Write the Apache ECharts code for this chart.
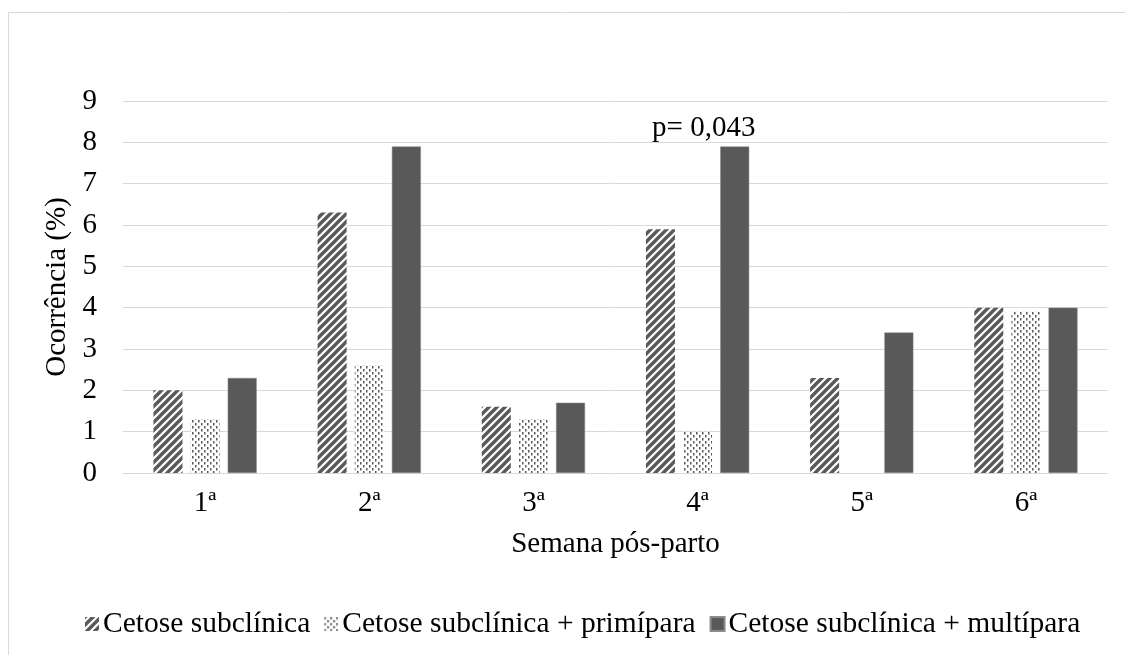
<!DOCTYPE html>
<html><head><meta charset="utf-8">
<script src="https://cdn.jsdelivr.net/npm/echarts@6/dist/echarts.min.js"></script>
<style>html,body{margin:0;padding:0;background:#fff}#c{width:1125px;height:655px}</style>
</head><body><div id="c"></div>
<script>
const categories = ['1ª','2ª','3ª','4ª','5ª','6ª'];
const seriesNames = ['Cetose subclínica','Cetose subclínica + primípara','Cetose subclínica + multípara'];
const cetose = [2.0, 6.3, 1.6, 5.9, 2.3, 4.0];
const primipara = [1.3, 2.6, 1.3, 1.0, 0, 3.9];
const multipara = [2.3, 7.9, 1.7, 7.9, 3.4, 4.0];
const yTicks = [0,1,2,3,4,5,6,7,8,9];
const annotationIndex = 3;
const annotationText = 'p= 0,043';

function hatch(){
  const c = document.createElement('canvas'); c.width = 8; c.height = 8;
  const g = c.getContext('2d');
  g.fillStyle = '#fff'; g.fillRect(0,0,8,8);
  g.strokeStyle = '#595959'; g.lineWidth = 3.4;
  g.beginPath();
  g.moveTo(-2,10); g.lineTo(10,-2);
  g.moveTo(-2,2); g.lineTo(2,-2);
  g.moveTo(6,10); g.lineTo(10,6);
  g.stroke();
  return {image:c, repeat:'repeat'};
}
function dots(){
  const c = document.createElement('canvas'); c.width = 6; c.height = 6;
  const g = c.getContext('2d');
  g.fillStyle = '#fff'; g.fillRect(0,0,6,6);
  g.fillStyle = '#595959';
  g.fillRect(0,0,1.5,2.5); g.fillRect(3,3,1.5,2.5);
  return {image:c, repeat:'repeat'};
}
const font = 'Liberation Serif';
const fs = 29;
const chart = echarts.init(document.getElementById('c'));
const multData = multipara.map((v,i)=> i===annotationIndex ? {value:v, label:{show:true, position:'top', offset:[-31,0], formatter:annotationText, fontFamily:font, fontSize:fs, color:'#000', distance:4}} : v);
chart.setOption({
  animation:false,
  graphic:[{type:'rect', shape:{x:8.5,y:12.5,width:1130,height:660}, style:{fill:'none', stroke:'#d9d9d9', lineWidth:1}}],
  grid:{left:123, right:17, top:101, bottom:182},
  legend:{top:604, left:80, itemWidth:14, itemHeight:14, itemGap:14,
    textStyle:{fontFamily:font, fontSize:29.5, color:'#000', padding:[0,0,0,-1]}, icon:'rect',
    data:seriesNames},
  xAxis:{type:'category', data:categories,
    axisLine:{lineStyle:{color:'#d9d9d9'}}, axisTick:{show:false},
    axisLabel:{fontFamily:font, fontSize:fs, color:'#000', margin:16},
    name:'Semana pós-parto', nameLocation:'middle', nameGap:57,
    nameTextStyle:{fontFamily:font, fontSize:fs, color:'#000'}},
  yAxis:{type:'value', min:0, max:9, interval:1,
    axisLine:{show:false}, axisTick:{show:false},
    splitLine:{lineStyle:{color:'#d9d9d9', width:1}},
    axisLabel:{fontFamily:font, fontSize:fs, color:'#000', margin:26, formatter:v=>String(yTicks[v])},
    name:'Ocorrência (%)', nameLocation:'middle', nameGap:47, nameRotate:90,
    nameTextStyle:{fontFamily:font, fontSize:fs, color:'#000'}},
  series:[
    {name:seriesNames[0], type:'bar', data:cetose, barWidth:29, barGap:'28%', itemStyle:{color:hatch()}},
    {name:seriesNames[1], type:'bar', data:primipara, barWidth:29, barGap:'28%', itemStyle:{color:dots()}},
    {name:seriesNames[2], type:'bar', data:multData, barWidth:29, barGap:'28%', itemStyle:{color:'#595959', borderColor:'#8a8a8a', borderWidth:0.5}}
  ]
});
</script></body></html>
